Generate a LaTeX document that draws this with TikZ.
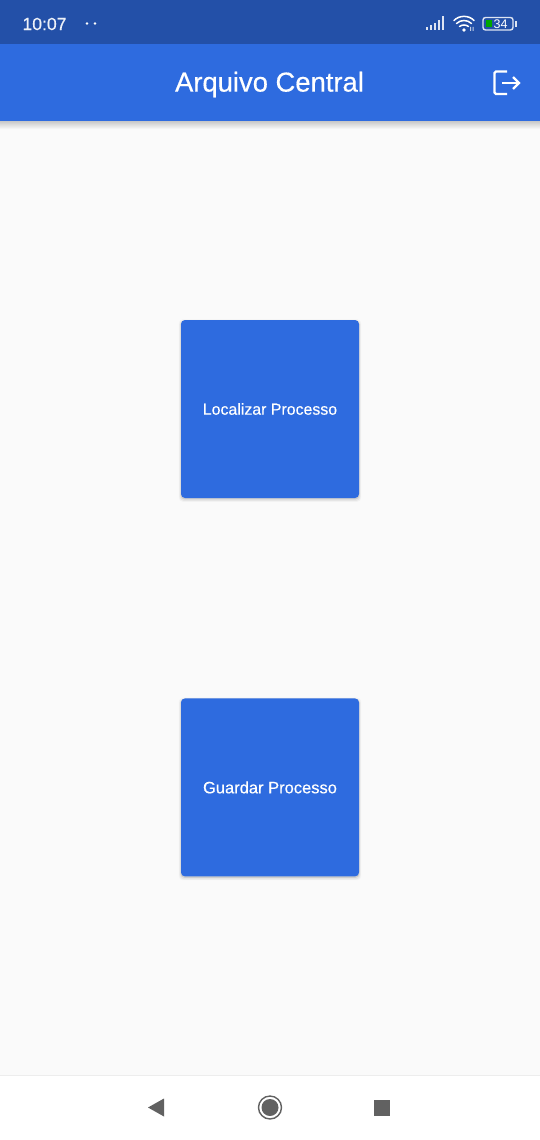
\documentclass[tikz,border=0pt]{standalone}
\usepackage{fontspec}
\setmainfont{Liberation Sans}
\newfontfamily\mediumfont[FakeBold=0.4]{Liberation Sans}
\usetikzlibrary{positioning, shadows, arrows.meta}
\definecolor{statusblue}{HTML}{2350A8}
\definecolor{barblue}{HTML}{2E6BDF}
\definecolor{pagegray}{HTML}{FAFAFA}
\definecolor{navgray}{HTML}{616161}
\tikzset{
    menubutton/.style={
        rectangle, fill=barblue, rounded corners=4pt,
        minimum width=178pt, minimum height=178pt, inner sep=0pt,
        text=white, font=\fontsize{15.9}{17}\mediumfont,
        general shadow={shadow xshift=0pt, shadow yshift=-1.5pt, shadow scale=1.025, opacity=0.03, fill=black},
        general shadow={shadow xshift=0pt, shadow yshift=-1.5pt, shadow scale=1.015, opacity=0.05, fill=black},
        general shadow={shadow xshift=0pt, shadow yshift=-1pt, shadow scale=1.005, opacity=0.10, fill=black}
    },
    statustext/.style={text=white, inner sep=0pt},
    iconline/.style={draw=white, line width=2.4pt},
    navicon/.style={fill=navgray, draw=none},
}
\begin{document}
\begin{tikzpicture}[x=1pt, y=-1pt]
    \useasboundingbox (0,0) rectangle (540,1140);
    \fill[pagegray] (0,0) rectangle (540,1140);

    % top bars
    \shade[top color=black!20!pagegray, bottom color=pagegray] (0,121) rectangle (540,129);
    \fill[barblue] (0,44) rectangle (540,121);
    \fill[statusblue] (0,0) rectangle (540,44);
    \node[statustext, font=\fontsize{17.6}{19}\mediumfont, text=white!92!statusblue] (clock) at (44.5,24) {10:07};
    \fill[white] (87,23.5) circle (1.3pt) (95,23.5) circle (1.3pt);

    % signal
    \foreach \i/\h in {0/3, 1/5, 2/7, 3/10, 4/14} {
        \fill[white, opacity=0.85] (425.5+\i*4,30) rectangle (428+\i*4,30-\h);
    }
    % wifi
    \draw[white, line width=1.5pt, line cap=round] (454,20.5) .. controls (459,15) and (469,15) .. (474,20.5);
    \draw[white, line width=1.5pt, line cap=round] (456.5,23.5) .. controls (460.5,19.5) and (467.5,19.5) .. (471.5,23.5);
    \draw[white, line width=1.5pt, line cap=round] (459.5,26.5) .. controls (462,24.5) and (466,24.5) .. (468.5,26.5);
    \fill[white] (464,30) circle (1.8pt);
    \fill[white, opacity=0.7] (470,27) rectangle (471,31) (472.5,27) rectangle (473.5,31);
    % battery
    \draw[white!85!statusblue, line width=1.4pt, rounded corners=2.5pt] (483,17.5) rectangle (513,30);
    \fill[white!85!statusblue] (515,21) rectangle (516.5,27);
    \fill[green!65!black] (486,20) rectangle (491.5,27.5);
    \node[statustext, font=\fontsize{12.5}{13}\selectfont] (battery) at (500.5,24) {34};

    % app bar
    \node[text=white, inner sep=0pt, font=\fontsize{27.4}{30}\mediumfont] (title) at (269.5,84.5) {Arquivo Central};
    \draw[iconline, rounded corners=1.5pt] (507,71.5) -- (494.5,71.5) -- (494.5,94) -- (507,94);
    \draw[iconline] (502,83) -- (518.5,83);
    \draw[iconline, line join=miter] (513,77) -- (519,83) -- (513,89);

    % buttons
    \node[menubutton] (locate) at (270,409) {Localizar Processo};
    \node[menubutton, below=200pt of locate, font=\fontsize{16.5}{17}\mediumfont] (store) {Guardar Processo};

    % nav bar
    \fill[white] (0,1076) rectangle (540,1140);
    \draw[black, opacity=0.05] (0,1075.5) -- (540,1075.5);
    \fill[navicon] (148,1107.5) -- (164,1098.5) -- (164,1116.5) -- cycle;
    \draw[navgray, line width=1.4pt] (270,1107.5) circle (11.5pt);
    \fill[navicon] (270,1107.5) circle (8.5pt);
    \fill[navicon] (374,1099.5) rectangle (390,1115.5);
\end{tikzpicture}
\end{document}
